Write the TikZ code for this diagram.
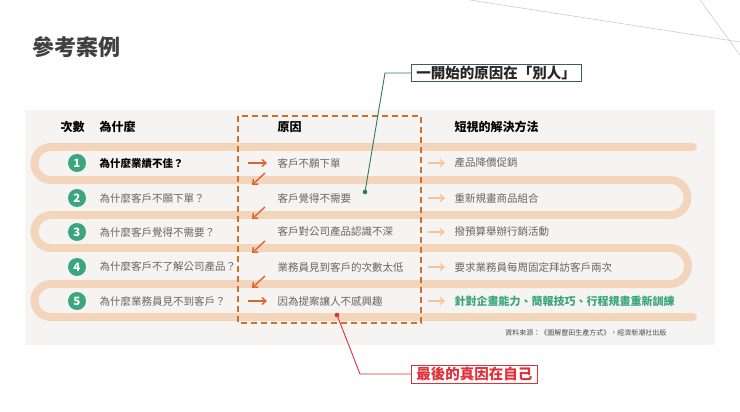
\documentclass[tikz,border=0pt]{standalone}
\usepackage{fontspec}
\setmainfont{Noto Sans CJK TC}
\usetikzlibrary{arrows.meta}
\definecolor{band}{HTML}{F3D5BC}
\definecolor{grn}{HTML}{3AA57E}
\definecolor{org}{HTML}{D0702A}
\definecolor{arr}{HTML}{E2622A}
\definecolor{txt}{HTML}{666666}
\definecolor{panel}{HTML}{F5F4F2}
\definecolor{cal}{HTML}{3D5A6C}
\definecolor{rd}{HTML}{E0303A}
\begin{document}
\begin{tikzpicture}[x=1pt,y=-1pt,
  num/.style={circle,fill=grn,text=white,inner sep=0pt,minimum size=18pt,font=\fontsize{11.5}{11.5}\bfseries},
  q/.style={anchor=west,text=txt,font=\fontsize{10.5}{12}\selectfont},
  hd/.style={anchor=west,font=\fontsize{12}{14}\bfseries},
  oarr/.style={arr,line width=1.4pt,-{Straight Barb[length=4pt,width=7pt]}},
  larr/.style={band!80!orange,line width=1.3pt,-{Straight Barb[length=4pt,width=7pt]}},
  callout/.style={draw,line width=0.9pt,inner xsep=5pt,inner ysep=2pt,font=\fontsize{14.5}{16}\bfseries}]
\useasboundingbox (0,0) rectangle (740,412);
\fill[white] (0,0) rectangle (740,412);
\draw[gray!40,line width=0.6pt] (470,0) -- (740,42);
\draw[gray!40,line width=0.6pt] (700,0) -- (740,55);
\node[anchor=west,text=black!75,font=\fontsize{22}{25}\bfseries] (title) at (29,47) {參考案例};
\fill[panel] (25,110) rectangle (715,345);
% band
\draw[band,line width=8pt,line cap=round]
 (693,147) -- (51,147) arc[start angle=270,end angle=90,radius=16.5] -- (670,180)
 arc[start angle=-90,end angle=90,radius=17.5] -- (51,215)
 arc[start angle=270,end angle=90,radius=16.5] -- (670,248)
 arc[start angle=-90,end angle=90,radius=18] -- (51,284)
 arc[start angle=270,end angle=90,radius=16.5] -- (693,317);
% headers
\node[hd] (h1) at (57,127) {次數};
\node[hd] (h2) at (96,127) {為什麼};
\node[hd] (h3) at (274,127) {原因};
\node[hd] (h4) at (451,127) {短視的解決方法};
% dashed box
\draw[org,line width=1.5pt,dash pattern=on 6pt off 4pt] (238,116) rectangle (421,323);
% rows
\foreach \i/\y/\qq/\c/\s in {
 2/198/為什麼客戶不願下單？/客戶覺得不需要/重新規畫商品組合,
 3/232/為什麼客戶覺得不需要？/客戶對公司產品認識不深/撥預算舉辦行銷活動,
 4/267/為什麼客戶不了解公司產品？/業務員見到客戶的次數太低/要求業務員每周固定拜訪客戶兩次}{
 \node[num] (n\i) at (77,\y) {\i};
 \node[q] (q\i) at (96,\y) {\qq};
 \node[q] (c\i) at (274,\y) {\c};
 \node[q] (s\i) at (451,\y) {\s};
 \coordinate (la\i) at (428,\y); \coordinate (lb\i) at (445,\y);
 \draw[larr] (la\i) -- (lb\i);
}
\node[num] (n1) at (77,163) {1};
\node[q,text=black,font=\fontsize{10.5}{12}\bfseries] (q1) at (96,163) {為什麼業績不佳？};
\node[q] (c1) at (274,163) {客戶不願下單};
\node[q] (s1) at (451,163) {產品降價促銷};
\coordinate (la1) at (428,163); \coordinate (lb1) at (445,163);
\draw[larr] (la1) -- (lb1);
\node[num] (n5) at (77,301) {5};
\node[q] (q5) at (96,301) {為什麼業務員見不到客戶？};
\node[q] (c5) at (274,301) {因為提案讓人不感興趣};
\node[anchor=west,text=grn,font=\fontsize{11}{12}\bfseries] (s5) at (451,301) {針對企畫能力、簡報技巧、行程規畫重新訓練};
\coordinate (la5) at (428,301); \coordinate (lb5) at (445,301);
\draw[larr] (la5) -- (lb5);
% orange arrows
\coordinate (r1a) at (248,163); \coordinate (r1b) at (267,163);
\coordinate (r5a) at (248,301); \coordinate (r5b) at (267,301);
\draw[oarr] (r1a) -- (r1b);
\draw[oarr] (r5a) -- (r5b);
\foreach \y in {180,214,248,283}{
 \coordinate (da) at (265,\y-7); \coordinate (db) at (252,\y+5);
 \draw[oarr] (da) -- (db);
}
\node[anchor=east,text=black!70,font=\fontsize{7}{8}\selectfont] (src) at (670,333) {資料來源：《圖解豐田生產方式》，經濟新潮社出版};
% callouts
\node[callout,draw=cal,text=black!85,anchor=west] (co1) at (411,73) {一開始的原因在「別人」};
\fill[cal!80!green] (365,192) circle (2.3pt) coordinate (d1);
\coordinate (k1) at (385,73);
\draw[cal!80!green,line width=0.9pt] (co1.west) -- (k1) -- (d1);
\node[callout,draw=rd,text=rd,anchor=west] (co2) at (411,374) {最後的真因在自己};
\fill[rd] (337,315) circle (2.3pt) coordinate (d2);
\coordinate (k2) at (360,374);
\draw[rd,line width=0.9pt] (d2) -- (k2) -- (co2.west);
\end{tikzpicture}
\end{document}
